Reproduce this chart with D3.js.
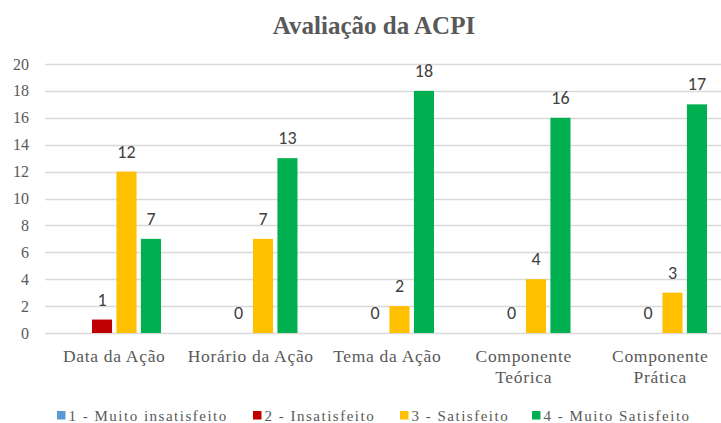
<!DOCTYPE html>
<html>
<head>
<meta charset="utf-8">
<script src="https://cdn.jsdelivr.net/npm/d3@7"></script>
<style>
  body { margin: 0; background: #fff; }
</style>
</head>
<body>
<div id="chart"></div>
<script>
// chart data
var categories = ['Data da Ação', 'Horário da Ação', 'Tema da Ação', 'Componente\nTeórica', 'Componente\nPrática']
var seriesNames = ['1 - Muito insatisfeito', '2 - Insatisfeito', '3 - Satisfeito', '4 - Muito Satisfeito']
var muitoInsatisfeito = [null, null, null, null, null]
var insatisfeito = [1, 0, 0, 0, 0]
var satisfeito = [12, 7, 2, 4, 3]
var muitoSatisfeito = [7, 13, 18, 16, 17]
var colors = ['#5b9bd5', '#c00000', '#ffc000', '#00b050']
var yTicks = [0, 2, 4, 6, 8, 10, 12, 14, 16, 18, 20]

var WIDTH = 721
var HEIGHT = 423
var SERIF = 'Liberation Serif'
var SANS = 'Carlito'
var GREY = '#595959'

var series = [muitoInsatisfeito, insatisfeito, satisfeito, muitoSatisfeito]

var svg = d3.select('#chart').append('svg')
  .attr('width', WIDTH)
  .attr('height', HEIGHT)

var y = d3.scaleLinear().domain([0, 20]).range([333, 64])

// the chart runs off the right side of the picture
var x0 = d3.scaleBand().domain(categories).range([46, 728.5])
  .paddingInner(0.315).paddingOuter(0.1575)
var x1 = d3.scaleBand().domain(d3.range(4)).range([0, x0.bandwidth()])
  .paddingInner(0.18)

// title
svg.append('text')
  .attr('x', 374)
  .attr('y', 34)
  .attr('text-anchor', 'middle')
  .attr('font-family', SERIF)
  .attr('font-weight', 'bold')
  .attr('font-size', 25)
  .attr('fill', GREY)
  .text('Avaliação da ACPI')

// grid
svg.append('g').selectAll('line').data(yTicks).enter().append('line')
  .attr('x1', 45)
  .attr('x2', WIDTH)
  .attr('y1', function (d) { return Math.round(y(d)) + 0.5 })
  .attr('y2', function (d) { return Math.round(y(d)) + 0.5 })
  .attr('stroke', '#d9d9d9')
  .attr('stroke-width', 1.3)

svg.append('g').selectAll('text').data(yTicks).enter().append('text')
  .attr('x', 29)
  .attr('y', function (d) { return y(d) + 5.5 })
  .attr('text-anchor', 'end')
  .attr('font-family', SERIF)
  .attr('font-size', 16)
  .attr('fill', GREY)
  .text(function (d) { return d })

// bars
var groups = svg.append('g').selectAll('g').data(categories).enter().append('g')
  .attr('transform', function (d) { return 'translate(' + x0(d) + ',0)' })

groups.each(function (cat, ci) {
  var g = d3.select(this)
  var vals = series.map(function (s, si) { return { si: si, v: s[ci] } })
  g.selectAll('rect').data(vals.filter(function (d) { return d.v })).enter().append('rect')
    .attr('x', function (d) { return x1(d.si) })
    .attr('width', x1.bandwidth())
    .attr('y', function (d) { return y(d.v) })
    .attr('height', function (d) { return y(0) - y(d.v) })
    .attr('fill', function (d) { return colors[d.si] })
  g.selectAll('text.lbl').data(vals.filter(function (d) { return d.v !== null })).enter().append('text')
    .attr('class', 'lbl')
    .attr('x', function (d) { return x1(d.si) + x1.bandwidth() / 2 })
    .attr('y', function (d) { return y(d.v) - 14 })
    .attr('text-anchor', 'middle')
    .attr('font-family', SANS)
    .attr('font-size', 18)
    .attr('fill', '#404040')
    .text(function (d) { return d.v })
})

// category labels
svg.append('g').selectAll('text').data(categories).enter().append('text')
  .attr('y', 361.5)
  .attr('text-anchor', 'middle')
  .attr('font-family', SERIF)
  .attr('font-size', 17.5)
  .attr('letter-spacing', 0.7)
  .attr('fill', GREY)
  .each(function (d) {
    var t = d3.select(this)
    d.split('\n').forEach(function (line, i) {
      t.append('tspan')
        .attr('x', x0(d) + x0.bandwidth() / 2)
        .attr('dy', i ? 21 : 0)
        .text(line)
    })
  })

// legend
var legendX = [57, 253, 400, 532]
var legend = svg.append('g').selectAll('g').data(seriesNames).enter().append('g')
  .attr('transform', function (d, i) { return 'translate(' + legendX[i] + ',411)' })
legend.append('rect')
  .attr('width', 8.5)
  .attr('height', 8.5)
  .attr('fill', function (d, i) { return colors[i] })
legend.append('text')
  .attr('x', 11.5)
  .attr('y', 9.5)
  .attr('font-family', SERIF)
  .attr('font-size', 15)
  .attr('letter-spacing', 1.5)
  .attr('fill', GREY)
  .text(function (d) { return d })
</script>
</body>
</html>
